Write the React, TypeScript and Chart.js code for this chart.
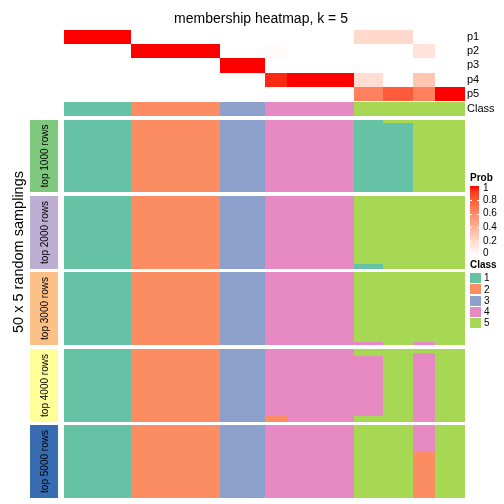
import React, { useEffect, useRef } from "react";
import { Chart, registerables } from "chart.js";
Chart.register(...registerables);

const TITLE = "membership heatmap, k = 5";
const ROW_TITLE = "50 x 5 random samplings";
// number of samples in each column group (columns ordered as in the picture)
const groupSizes = [9, 12, 6, 3, 9, 4, 4, 3, 4];
const probLabels = ["p1", "p2", "p3", "p4", "p5"];
const p1 = [1, 0, 0, 0, 0, 0.2, 0.2, 0, 0];
const p2 = [0, 1, 0, 0.02, 0, 0, 0, 0.14, 0];
const p3 = [0, 0, 1, 0, 0, 0, 0, 0, 0];
const p4 = [0, 0, 0, 0.95, 1, 0.18, 0, 0.3, 0];
const p5 = [0, 0, 0, 0, 0, 0.64, 0.8, 0.64, 1];
const classRow = [1, 2, 3, 4, 4, 5, 5, 5, 5];
const classLegend = [1, 2, 3, 4, 5];
const classColors = ["#66C2A5", "#FC8D62", "#8DA0CB", "#E78AC3", "#A6D854"];
const blockLabels = ["top 1000 rows", "top 2000 rows", "top 3000 rows", "top 4000 rows", "top 5000 rows"];
const blockColors = ["#7FC97F", "#BEAED4", "#FDC086", "#FFFF99", "#386CB0"];
const probTicks = [1, 0.8, 0.6, 0.4, 0.2, 0];
const ROWS = 50;
// per block, per column group: [class, number of rows] from top to bottom
const top1000 = [[[1, 50]], [[2, 50]], [[3, 50]], [[4, 50]], [[4, 50]], [[1, 50]], [[5, 2], [1, 48]], [[5, 50]], [[5, 50]]];
const top2000 = [[[1, 50]], [[2, 50]], [[3, 50]], [[4, 50]], [[4, 50]], [[5, 47], [1, 3]], [[5, 50]], [[5, 50]], [[5, 50]]];
const top3000 = [[[1, 50]], [[2, 50]], [[3, 50]], [[4, 50]], [[4, 50]], [[5, 48], [4, 2]], [[5, 50]], [[5, 48], [4, 2]], [[5, 50]]];
const top4000 = [[[1, 50]], [[2, 50]], [[3, 50]], [[4, 46], [2, 4]], [[4, 50]], [[5, 5], [4, 41], [5, 4]], [[5, 50]], [[5, 3], [4, 47]], [[5, 50]]];
const top5000 = [[[1, 50]], [[2, 50]], [[3, 50]], [[4, 50]], [[4, 50]], [[5, 50]], [[5, 50]], [[4, 18], [2, 32]], [[5, 50]]];
const blocks = [top1000, top2000, top3000, top4000, top5000];

// layout units (one unit = one sampling row)
const ANN_H = 9.73;
const CLASS_GAP = 0.7;
const ANN_GAP = 2.4;
const BLOCK_GAP = 2.4;
const TOTAL = 6 * ANN_H + CLASS_GAP + ANN_GAP + 5 * ROWS + 4 * BLOCK_GAP;
const NS = groupSizes.reduce((a, b) => a + b, 0);

// ---- LAB colour interpolation (white -> red) ----
const lin = (c: number) => { c /= 255; return c <= 0.04045 ? c / 12.92 : Math.pow((c + 0.055) / 1.055, 2.4); };
const delin = (c: number) => { const v = c <= 0.0031308 ? 12.92 * c : 1.055 * Math.pow(c, 1 / 2.4) - 0.055; return Math.max(0, Math.min(255, Math.round(v * 255))); };
function rgbToLab(r: number, g: number, b: number) {
  const R = lin(r), G = lin(g), B = lin(b);
  const X = (0.4124 * R + 0.3576 * G + 0.1805 * B) / 0.95047;
  const Y = 0.2126 * R + 0.7152 * G + 0.0722 * B;
  const Z = (0.0193 * R + 0.1192 * G + 0.9505 * B) / 1.08883;
  const f = (t: number) => (t > 0.008856 ? Math.cbrt(t) : 7.787 * t + 16 / 116);
  const fx = f(X), fy = f(Y), fz = f(Z);
  return [116 * fy - 16, 500 * (fx - fy), 200 * (fy - fz)];
}
function labToRgb(L: number, a: number, b: number) {
  const fy = (L + 16) / 116, fx = fy + a / 500, fz = fy - b / 200;
  const fi = (t: number) => (t > 0.206893 ? t * t * t : (t - 16 / 116) / 7.787);
  const X = fi(fx) * 0.95047, Y = fi(fy), Z = fi(fz) * 1.08883;
  const R = 3.2406 * X - 1.5372 * Y - 0.4986 * Z;
  const G = -0.9689 * X + 1.8758 * Y + 0.0415 * Z;
  const B = 0.0557 * X - 0.204 * Y + 1.057 * Z;
  return `rgb(${delin(R)},${delin(G)},${delin(B)})`;
}
const LW = rgbToLab(255, 255, 255);
const LR = rgbToLab(255, 0, 0);
const probColor = (v: number) => labToRgb(LW[0] + (LR[0] - LW[0]) * v, LW[1] + (LR[1] - LW[1]) * v, LW[2] + (LR[2] - LW[2]) * v);

const FONT = '"Liberation Sans", Arial, Helvetica, sans-serif';

const heatPlugin = {
  id: "heat",
  afterDraw(chart: any) {
    const ctx = chart.ctx as CanvasRenderingContext2D;
    const xs = chart.scales.x, ys = chart.scales.y;
    const X = (v: number) => Math.round(xs.getPixelForValue(v));
    const Y = (v: number) => Math.round(ys.getPixelForValue(v));
    const starts: number[] = [];
    let acc = 0;
    groupSizes.forEach((s) => { starts.push(acc); acc += s; });
    const rect = (x0: number, x1: number, y0: number, y1: number, color: string) => {
      ctx.fillStyle = color;
      const a = X(x0), b = X(x1), c = Y(y0), d = Y(y1);
      ctx.fillRect(a, c, b - a, d - c);
    };
    ctx.save();
    // top annotation
    const probRows = [p1, p2, p3, p4, p5];
    probRows.forEach((row, r) => {
      row.forEach((v, g) => rect(starts[g], starts[g] + groupSizes[g], r * ANN_H, (r + 1) * ANN_H, probColor(v)));
    });
    const cTop = 5 * ANN_H + CLASS_GAP;
    classRow.forEach((c, g) => rect(starts[g], starts[g] + groupSizes[g], cTop, cTop + ANN_H, classColors[c - 1]));
    // right labels
    ctx.fillStyle = "#000";
    ctx.font = `11px ${FONT}`;
    ctx.textBaseline = "middle";
    ctx.textAlign = "left";
    const rx = chart.chartArea.right + 2;
    probLabels.forEach((l, r) => ctx.fillText(l, rx, ys.getPixelForValue((r + 0.5) * ANN_H)));
    ctx.fillText("Class", rx, ys.getPixelForValue(cTop + ANN_H / 2));
    // blocks
    const bStart = cTop + ANN_H + ANN_GAP;
    blocks.forEach((blk, b) => {
      const top = bStart + b * (ROWS + BLOCK_GAP);
      blk.forEach((segs, g) => {
        let r0 = 0;
        segs.forEach(([c, n]) => {
          rect(starts[g], starts[g] + groupSizes[g], top + r0, top + r0 + n, classColors[c - 1]);
          r0 += n;
        });
      });
      // block label box
      const y0 = Y(top), y1 = Y(top + ROWS);
      ctx.fillStyle = blockColors[b];
      ctx.fillRect(30, y0, 28, y1 - y0);
      ctx.save();
      ctx.translate(45, (y0 + y1) / 2);
      ctx.rotate(-Math.PI / 2);
      ctx.fillStyle = "#000";
      ctx.font = `10px ${FONT}`;
      ctx.textAlign = "center";
      ctx.textBaseline = "middle";
      ctx.fillText(blockLabels[b], 0, 0);
      ctx.restore();
    });
    // row title
    ctx.save();
    ctx.translate(19, 252);
    ctx.rotate(-Math.PI / 2);
    ctx.fillStyle = "#000";
    ctx.font = `14.5px ${FONT}`;
    ctx.textAlign = "center";
    ctx.textBaseline = "middle";
    ctx.fillText(ROW_TITLE, 0, 0);
    ctx.restore();
    // title
    ctx.fillStyle = "#000";
    ctx.font = `14px ${FONT}`;
    ctx.textAlign = "center";
    ctx.textBaseline = "middle";
    ctx.fillText(TITLE, 261, 19);
    // Prob legend
    ctx.textAlign = "left";
    ctx.font = `bold 10px ${FONT}`;
    ctx.fillText("Prob", 470, 178);
    const gy0 = 186, gy1 = 255, gx = 470, gw = 9;
    const grad = ctx.createLinearGradient(0, gy0, 0, gy1);
    for (let i = 0; i <= 20; i++) grad.addColorStop(i / 20, probColor(1 - i / 20));
    ctx.fillStyle = grad;
    ctx.fillRect(gx, gy0, gw, gy1 - gy0);
    ctx.font = `10px ${FONT}`;
    probTicks.forEach((t) => {
      const y = gy1 - (gy1 - gy0) * t + (t === 1 ? 2 : t === 0 ? -2 : 0);
      ctx.strokeStyle = "#fff";
      ctx.lineWidth = 1;
      if (t !== 1 && t !== 0) {
        ctx.beginPath();
        ctx.moveTo(gx, Math.round(y) + 0.5); ctx.lineTo(gx + 2, Math.round(y) + 0.5);
        ctx.moveTo(gx + gw - 2, Math.round(y) + 0.5); ctx.lineTo(gx + gw, Math.round(y) + 0.5);
        ctx.stroke();
      }
      ctx.fillStyle = "#000";
      ctx.fillText(String(t), 483, y);
    });
    // Class legend
    ctx.font = `bold 10px ${FONT}`;
    ctx.fillText("Class", 470, 265);
    ctx.font = `10px ${FONT}`;
    classLegend.forEach((c, i) => {
      const y = 273 + i * 11.3;
      ctx.fillStyle = classColors[c - 1];
      ctx.fillRect(470, Math.round(y), 11, 10);
      ctx.fillStyle = "#000";
      ctx.fillText(String(c), 484, y + 5.5);
    });
    ctx.restore();
  },
};

export default function App() {
  const ref = useRef<HTMLCanvasElement>(null);
  useEffect(() => {
    if (!ref.current) return;
    const chart = new Chart(ref.current, {
      type: "scatter",
      data: { datasets: [{ data: [] }] },
      options: {
        responsive: false,
        animation: false,
        layout: { padding: { left: 64, right: 39, top: 30, bottom: 6 } },
        scales: {
          x: { type: "linear", min: 0, max: NS, display: false },
          y: { type: "linear", min: 0, max: TOTAL, reverse: true, display: false },
        },
        plugins: { legend: { display: false }, tooltip: { enabled: false }, title: { display: false } },
      },
      plugins: [heatPlugin],
    });
    return () => chart.destroy();
  }, []);
  return (
    <div style={{ position: "absolute", left: 0, top: 0, width: 504, height: 504, background: "#fff" }}>
      <canvas ref={ref} width={504} height={504} />
    </div>
  );
}
